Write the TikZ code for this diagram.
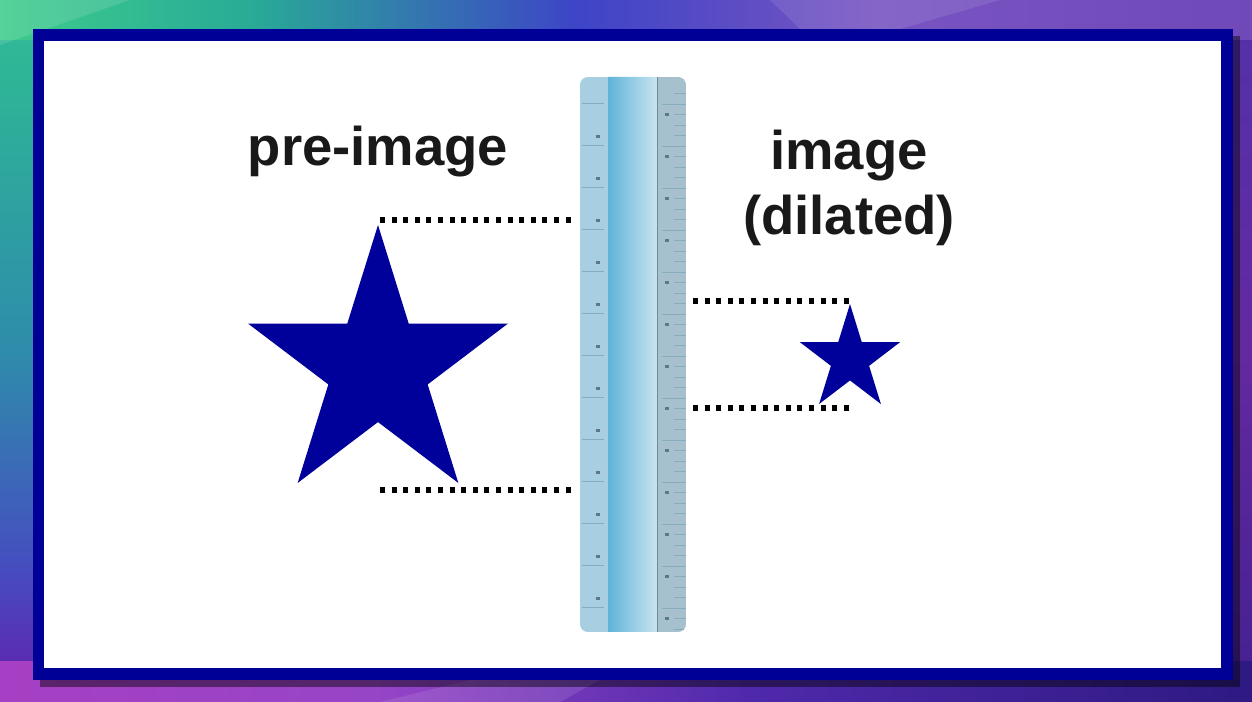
\documentclass[tikz,border=0pt]{standalone}
\usepackage{fontspec}
\setmainfont{Liberation Sans}

\definecolor{framenavy}{RGB}{0,0,150}
\definecolor{starblue}{RGB}{0,0,155}
\definecolor{inkgrey}{RGB}{25,25,25}
\definecolor{rulerlight}{RGB}{167,207,225}
\definecolor{rulermid}{RGB}{95,180,216}
\definecolor{rulerpale}{RGB}{200,228,240}
\definecolor{rulergrey}{RGB}{166,192,205}
\definecolor{tickblue}{RGB}{135,172,190}
\definecolor{rulerink}{RGB}{95,120,135}

% background bands round the panel
\pgfdeclarehorizontalshading{topband}{100bp}{%
    rgb(0bp)=(0.35,0.88,0.63); rgb(25bp)=(0.24,0.80,0.55);
    rgb(35bp)=(0.16,0.67,0.59); rgb(48bp)=(0.24,0.27,0.78);
    rgb(60bp)=(0.47,0.33,0.76); rgb(80bp)=(0.43,0.27,0.71);
    rgb(92bp)=(0.39,0.24,0.67); rgb(100bp)=(0.16,0.12,0.51)}
\pgfdeclarehorizontalshading{bottomband}{100bp}{%
    rgb(0bp)=(0.40,0.10,0.60); rgb(20bp)=(0.67,0.24,0.76);
    rgb(40bp)=(0.59,0.27,0.78); rgb(55bp)=(0.31,0.16,0.67);
    rgb(75bp)=(0.18,0.10,0.51); rgb(100bp)=(0.12,0.10,0.39)}
\pgfdeclareverticalshading{leftband}{100bp}{%
    rgb(0bp)=(0.39,0.08,0.59); rgb(25bp)=(0.39,0.12,0.67);
    rgb(35bp)=(0.27,0.31,0.75); rgb(50bp)=(0.18,0.55,0.67);
    rgb(70bp)=(0.18,0.71,0.59); rgb(100bp)=(0.35,0.86,0.63)}
\pgfdeclareverticalshading{rightband}{100bp}{%
    rgb(0bp)=(0.12,0.08,0.35); rgb(20bp)=(0.24,0.12,0.55);
    rgb(50bp)=(0.39,0.16,0.63); rgb(80bp)=(0.31,0.20,0.67);
    rgb(100bp)=(0.20,0.16,0.59)}

\begin{document}
\begin{tikzpicture}[
        x=0.02cm, y=-0.02cm,
        heading/.style={font=\fontsize{31}{37}\selectfont\bfseries,
                        text=inkgrey, align=center, inner sep=0pt},
        dotline/.style={line width=2.85pt, dash pattern=on 2.85pt off 3.75pt},
        tick/.style={draw=tickblue, line width=0.5pt},
        fivestar/.pic={
            \fill[starblue] (90:1) -- (126:0.382) -- (162:1) -- (198:0.382)
                -- (234:1) -- (270:0.382) -- (306:1) -- (342:0.382)
                -- (18:1) -- (54:0.382) -- cycle;
        },
    ]
    \useasboundingbox (0,0) rectangle (1252,702);

    % --- Background and framed panel ----------------------------------------
    \shade[shading=leftband]   (0,0) rectangle (40,702);
    \shade[shading=rightband]  (1212,0) rectangle (1252,702);
    \shade[shading=topband]    (0,0) rectangle (1252,40);
    \shade[shading=bottomband] (0,662) rectangle (1252,702);
    \fill[white, opacity=0.12] (0,0) -- (130,0) -- (0,45) -- cycle;
    \fill[white, opacity=0.10] (770,0) -- (1000,0) -- (900,29) -- (800,29) -- cycle;
    \fill[white, opacity=0.10] (380,702) -- (560,702) -- (600,680) -- (470,680) -- cycle;
    \fill[black, opacity=0.45] (40,36) rectangle (1240,687);
    \fill[framenavy] (33,29) rectangle (1233,680);
    \fill[white] (44,41) rectangle (1221,668);

    % --- Ruler --------------------------------------------------------------
    \begin{scope}
        \clip[rounded corners=4.5pt] (580,77) rectangle (686,632);
        \fill[rulerlight] (580,77) rectangle (608,632);
        \shade[left color=rulermid, right color=rulerpale]
            (608,77) rectangle (657,632);
        \fill[rulergrey] (657,77) rectangle (686,632);
        \draw[tickblue!80!black, line width=0.8pt] (657.5,77) -- (657.5,632);
        \foreach \y in {103,145,...,607}
            \draw[tick] (582,\y) -- (604,\y);
        \foreach \y in {135,177,...,597}
            \fill[rulerink] (596,\y) rectangle (600,\y+3);
        \foreach \k in {0,...,51}
            \draw[tick] (674,{93.5+10.5*\k}) -- (686,{93.5+10.5*\k});
        \foreach \y in {104,146,...,608}
            \draw[tick] (662,\y) -- (686,\y);
        \foreach \y in {113,155,...,617}
            \fill[rulerink] (665,\y) rectangle (669,\y+3);
    \end{scope}
    \coordinate (rulerleft)  at (574,0);
    \coordinate (rulerright) at (693,0);

    % --- Stars --------------------------------------------------------------
    \pic[xscale=136.7, yscale=-142.6] at (378,367.6) {fivestar};
    \pic[xscale=52.6, yscale=-55.3] at (850,359.3) {fivestar};
    \coordinate (bigtop)   at (380,220);
    \coordinate (bigbot)   at (380,490);
    \coordinate (smalltop) at (851,301);
    \coordinate (smallbot) at (851,408);

    % --- Measuring lines ----------------------------------------------------
    \draw[dotline] (bigtop) -- (bigtop -| rulerleft);
    \draw[dotline] (bigbot) -- (bigbot -| rulerleft);
    \draw[dotline] (smalltop -| rulerright) -- (smalltop);
    \draw[dotline] (smallbot -| rulerright) -- (smallbot);

    % --- Labels -------------------------------------------------------------
    \node[heading] (preimage) at (378,152) {pre-image};
    \node[heading] (image)    at (849,188) {image\\(dilated)};

\end{tikzpicture}
\end{document}
